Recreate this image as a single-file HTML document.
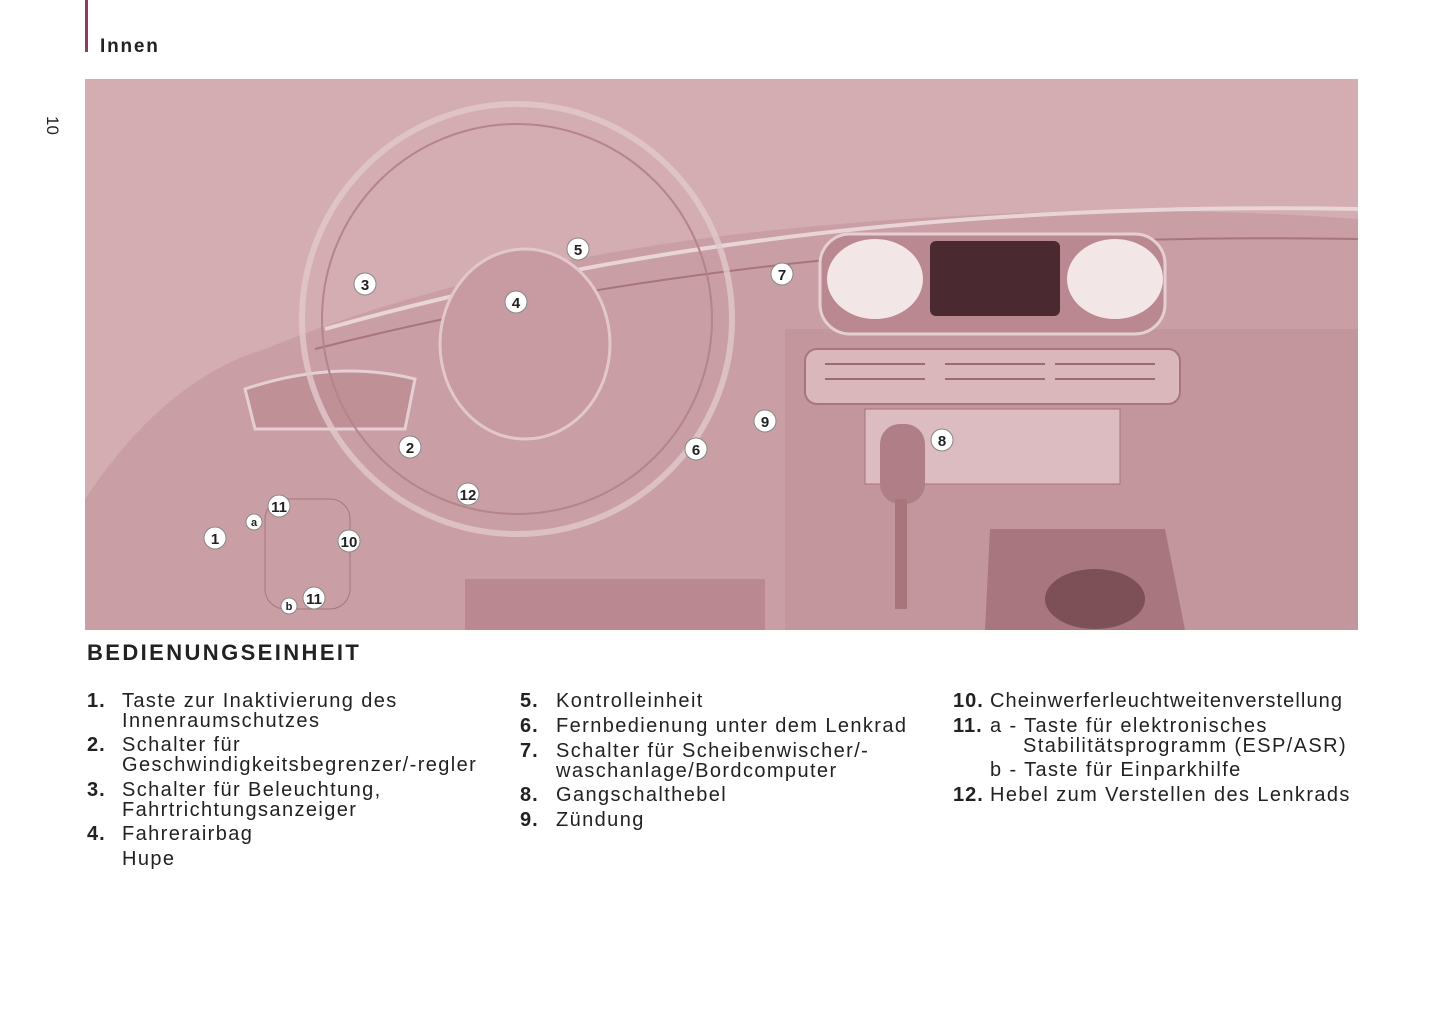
<!DOCTYPE html>
<html><head><meta charset="utf-8"><style>
body{margin:0;width:1445px;height:1026px;background:#fff;position:relative;font-family:"Liberation Sans",sans-serif;color:#222;overflow:hidden}
.bar{position:absolute;left:85px;top:0;width:3px;height:52px;background:#8e3a63}
.innen{position:absolute;left:100px;top:36px;font-weight:bold;font-size:19px;letter-spacing:1.8px}
.pg{position:absolute;top:116px;font-size:17px;transform:rotate(90deg);transform-origin:left top;left:62px}
.t{position:absolute;font-size:20px;line-height:20px;white-space:nowrap;letter-spacing:1.4px}
.n{position:absolute;font-size:20px;font-weight:bold;line-height:20px;letter-spacing:1px}
h2{position:absolute;left:87px;top:640px;margin:0;font-size:22px;font-weight:bold;letter-spacing:2.4px}
</style></head><body>
<div class="bar"></div><div class="innen">Innen</div>
<div class="pg">10</div>
<svg style="position:absolute;left:85px;top:79px" width="1273" height="551" viewBox="0 0 1273 551">
<rect width="1273" height="551" fill="#d3adb2"/>
<path d="M180 270 Q400 180 700 150 Q1000 120 1273 140 L1273 551 L0 551 L0 420 Q80 300 180 270Z" fill="#c99ea4"/>
<path d="M700 250 L1273 250 L1273 551 L700 551Z" fill="#c3959c"/>
<path d="M240 250 Q700 120 1273 130" stroke="#e9d4d7" stroke-width="4" fill="none"/>
<path d="M230 270 Q700 150 1273 160" stroke="#a8757d" stroke-width="2" fill="none"/>
<rect x="735" y="155" width="345" height="100" rx="30" fill="#b98890" stroke="#e6cfd2" stroke-width="3"/>
<ellipse cx="790" cy="200" rx="48" ry="40" fill="#f2e6e7"/>
<ellipse cx="1030" cy="200" rx="48" ry="40" fill="#f2e6e7"/>
<rect x="845" y="162" width="130" height="75" rx="6" fill="#4a2a30"/>
<rect x="720" y="270" width="375" height="55" rx="12" fill="#d9b7bb" stroke="#a8757d" stroke-width="2"/>
<g stroke="#9c6b73" stroke-width="2"><line x1="740" y1="285" x2="840" y2="285"/><line x1="740" y1="300" x2="840" y2="300"/><line x1="860" y1="285" x2="960" y2="285"/><line x1="860" y1="300" x2="960" y2="300"/><line x1="970" y1="285" x2="1070" y2="285"/><line x1="970" y1="300" x2="1070" y2="300"/></g>
<rect x="780" y="330" width="255" height="75" fill="#dcbcc0" stroke="#a8757d"/>
<rect x="795" y="345" width="45" height="80" rx="20" fill="#b07e86"/>
<rect x="810" y="420" width="12" height="110" fill="#a8757d"/>
<path d="M905 450 L1080 450 L1100 551 L900 551Z" fill="#a8767e"/>
<ellipse cx="1010" cy="520" rx="50" ry="30" fill="#7d4f57"/>
<path d="M380 500 L680 500 L680 551 L380 551Z" fill="#b98890"/>
<path d="M160 310 Q250 280 330 300 L320 350 L170 350Z" fill="#c09097" stroke="#e6cfd2" stroke-width="3"/>
<ellipse cx="432" cy="240" rx="215" ry="215" fill="none" stroke="#e2c8cc" stroke-width="6" opacity=".8"/>
<ellipse cx="432" cy="240" rx="195" ry="195" fill="none" stroke="#b6848b" stroke-width="2"/>
<ellipse cx="440" cy="265" rx="85" ry="95" fill="#c89aa1" stroke="#e2c8cc" stroke-width="3"/>
<rect x="180" y="420" width="85" height="110" rx="20" fill="#c99ea4" stroke="#a8757d"/>
<g font-family="Liberation Sans" font-weight="bold" font-size="15" text-anchor="middle">
<g fill="#fff" stroke="#888" stroke-width="1">
<circle cx="130" cy="459" r="11"/><circle cx="194" cy="427" r="11"/><circle cx="169" cy="443" r="8"/><circle cx="264" cy="462" r="11"/><circle cx="229" cy="519" r="11"/><circle cx="204" cy="527" r="8"/><circle cx="280" cy="205" r="11"/><circle cx="431" cy="223" r="11"/><circle cx="493" cy="170" r="11"/><circle cx="697" cy="195" r="11"/><circle cx="680" cy="342" r="11"/><circle cx="611" cy="370" r="11"/><circle cx="857" cy="361" r="11"/><circle cx="325" cy="368" r="11"/><circle cx="383" cy="415" r="11"/></g>
<g fill="#222"><text x="130" y="465">1</text><text x="194" y="433">11</text><text x="169" y="447" font-size="11">a</text><text x="264" y="468">10</text><text x="229" y="525">11</text><text x="204" y="531" font-size="11">b</text><text x="280" y="211">3</text><text x="431" y="229">4</text><text x="493" y="176">5</text><text x="697" y="201">7</text><text x="680" y="348">9</text><text x="611" y="376">6</text><text x="857" y="367">8</text><text x="325" y="374">2</text><text x="383" y="421">12</text></g></g>
</svg>
<h2>BEDIENUNGSEINHEIT</h2>
<div class="n" style="left:87px;top:691px">1.</div><div class="t" style="left:122px;top:691px">Taste zur Inaktivierung des<br>Innenraumschutzes</div>
<div class="n" style="left:87px;top:735px">2.</div><div class="t" style="left:122px;top:735px">Schalter für<br>Geschwindigkeitsbegrenzer/-regler</div>
<div class="n" style="left:87px;top:780px">3.</div><div class="t" style="left:122px;top:780px">Schalter für Beleuchtung,<br>Fahrtrichtungsanzeiger</div>
<div class="n" style="left:87px;top:824px">4.</div><div class="t" style="left:122px;top:824px">Fahrerairbag</div>
<div class="t" style="left:122px;top:849px">Hupe</div>
<div class="n" style="left:520px;top:691px">5.</div><div class="t" style="left:556px;top:691px">Kontrolleinheit</div>
<div class="n" style="left:520px;top:716px">6.</div><div class="t" style="left:556px;top:716px">Fernbedienung unter dem Lenkrad</div>
<div class="n" style="left:520px;top:741px">7.</div><div class="t" style="left:556px;top:741px">Schalter für Scheibenwischer/-<br>waschanlage/Bordcomputer</div>
<div class="n" style="left:520px;top:785px">8.</div><div class="t" style="left:556px;top:785px">Gangschalthebel</div>
<div class="n" style="left:520px;top:810px">9.</div><div class="t" style="left:556px;top:810px">Zündung</div>
<div class="n" style="left:953px;top:691px">10.</div><div class="t" style="left:990px;top:691px;letter-spacing:1.1px">Cheinwerferleuchtweitenverstellung</div>
<div class="n" style="left:953px;top:716px">11.</div><div class="t" style="left:990px;top:716px">a - Taste für elektronisches</div>
<div class="t" style="left:1023px;top:736px">Stabilitätsprogramm (ESP/ASR)</div>
<div class="t" style="left:990px;top:760px">b - Taste für Einparkhilfe</div>
<div class="n" style="left:953px;top:785px">12.</div><div class="t" style="left:990px;top:785px">Hebel zum Verstellen des Lenkrads</div>
</body></html>
